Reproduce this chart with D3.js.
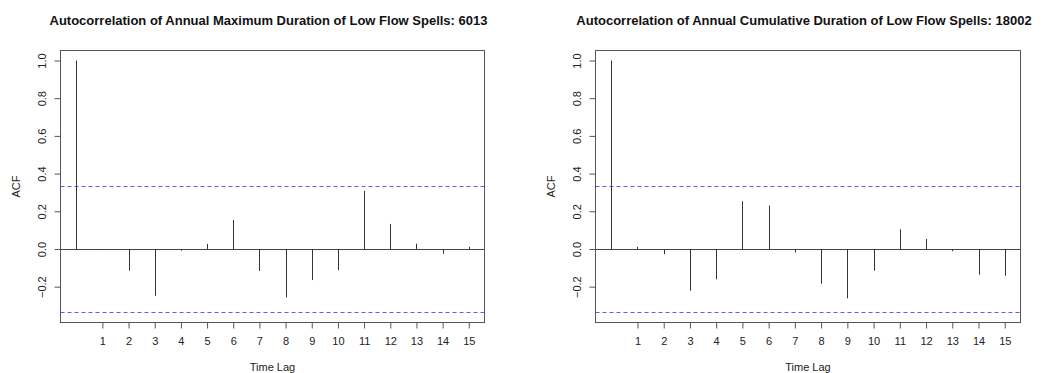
<!DOCTYPE html>
<html>
<head>
<meta charset="utf-8">
<script src="https://cdn.jsdelivr.net/npm/d3@7"></script>
<style>
  body { margin: 0; background: #fff; }
  svg { display: block; font-family: "Liberation Sans", Arial, sans-serif; }
</style>
</head>
<body>
<svg id="chart" width="1044" height="373"></svg>
<script>
// lags shown on each plot
const lags = d3.range(0, 16);
const tickLags = d3.range(1, 16);
const yTicks = [-0.2, 0.0, 0.2, 0.4, 0.6, 0.8, 1.0];

// acf values
const acfMax6013 = [1.0, -0.002, -0.115, -0.248, -0.009, 0.027, 0.154, -0.117,
    -0.257, -0.165, -0.112, 0.308, 0.133, 0.028, -0.025, 0.011];
const acfCum18002 = [1.0, 0.011, -0.028, -0.221, -0.161, 0.253, 0.230, -0.018,
    -0.184, -0.262, -0.115, 0.104, 0.053, -0.012, -0.136, -0.142];

// significance bound (blue dashes)
const ciBound = 0.336;

const titles = [
    'Autocorrelation of Annual Maximum Duration of Low Flow Spells: 6013',
    'Autocorrelation of Annual Cumulative Duration of Low Flow Spells: 18002'
];

const svg = d3.select('#chart');

const panels = [
    {left: 60.5, right: 484.5, values: acfMax6013, title: titles[0]},
    {left: 595.5, right: 1020.5, values: acfCum18002, title: titles[1]}
];
const plotTop = 50.5, plotBottom = 322.5;

let drawPanel = function (p) {
    // R style 4% padding
    const x = d3.scaleLinear().domain([-0.6, 15.6]).range([p.left, p.right]);
    const y = d3.scaleLinear().domain([-0.39, 1.053]).range([plotBottom, plotTop]);
    let g = svg.append('g');

    // title
    g.append('text')
        .attr('x', (p.left + p.right) / 2 - 4)
        .attr('y', 24.5)
        .attr('text-anchor', 'middle')
        .attr('font-weight', 'bold')
        .attr('font-size', '13px')
        .attr('fill', '#111')
        .text(p.title);

    // zero line
    g.append('line')
        .attr('x1', p.left).attr('x2', p.right)
        .attr('y1', Math.round(y(0)) + 0.5).attr('y2', Math.round(y(0)) + 0.5)
        .attr('stroke', '#444').attr('stroke-width', 1);

    // confidence lines
    [ciBound, -ciBound].forEach(function (c) {
        const yy = Math.round(y(c)) + 0.5;
        g.append('line')
            .attr('x1', p.left).attr('x2', p.right)
            .attr('y1', yy).attr('y2', yy)
            .attr('stroke', '#5c5cff').attr('stroke-width', 1)
            .attr('stroke-dasharray', '4,3');
    });

    // spikes
    g.selectAll('.spike').data(lags).enter().append('line')
        .attr('class', 'spike')
        .attr('x1', d => Math.round(x(d)) + 0.5).attr('x2', d => Math.round(x(d)) + 0.5)
        .attr('y1', y(0)).attr('y2', d => y(p.values[d]))
        .attr('stroke', '#333').attr('stroke-width', 1);

    // box
    g.append('rect')
        .attr('x', p.left).attr('y', plotTop)
        .attr('width', p.right - p.left).attr('height', plotBottom - plotTop)
        .attr('fill', 'none').attr('stroke', '#555').attr('stroke-width', 1);

    // x axis
    let xa = g.append('g')
        .attr('transform', 'translate(0,' + plotBottom + ')')
        .call(d3.axisBottom(x).tickValues(tickLags).tickSize(6).tickPadding(9).tickSizeOuter(0));
    xa.select('.domain').remove();
    xa.selectAll('line').attr('stroke', '#555');
    xa.selectAll('text').attr('font-size', '11px').attr('fill', '#222').attr('font-family', null);

    // y axis
    let ya = g.append('g')
        .attr('transform', 'translate(' + p.left + ',0)')
        .call(d3.axisLeft(y).tickValues(yTicks).tickSize(6).tickFormat(d3.format('.1f')));
    ya.select('.domain').remove();
    ya.selectAll('line').attr('stroke', '#555');
    ya.selectAll('text')
        .attr('font-size', '11px').attr('fill', '#222').attr('font-family', null)
        .attr('x', null).attr('dy', null)
        .attr('text-anchor', 'middle')
        .attr('dominant-baseline', 'central')
        .attr('transform', 'translate(-19,0) rotate(-90)');

    // axis titles
    g.append('text')
        .attr('transform', 'translate(' + (p.left - 45) + ',' + (plotTop + plotBottom) / 2 + ') rotate(-90)')
        .attr('text-anchor', 'middle')
        .attr('dominant-baseline', 'central')
        .attr('font-size', '11px').attr('fill', '#222')
        .text('ACF');
    g.append('text')
        .attr('x', (p.left + p.right) / 2)
        .attr('y', 371)
        .attr('text-anchor', 'middle')
        .attr('font-size', '11px').attr('fill', '#222')
        .text('Time Lag');
};

panels.forEach(drawPanel);
</script>
</body>
</html>
